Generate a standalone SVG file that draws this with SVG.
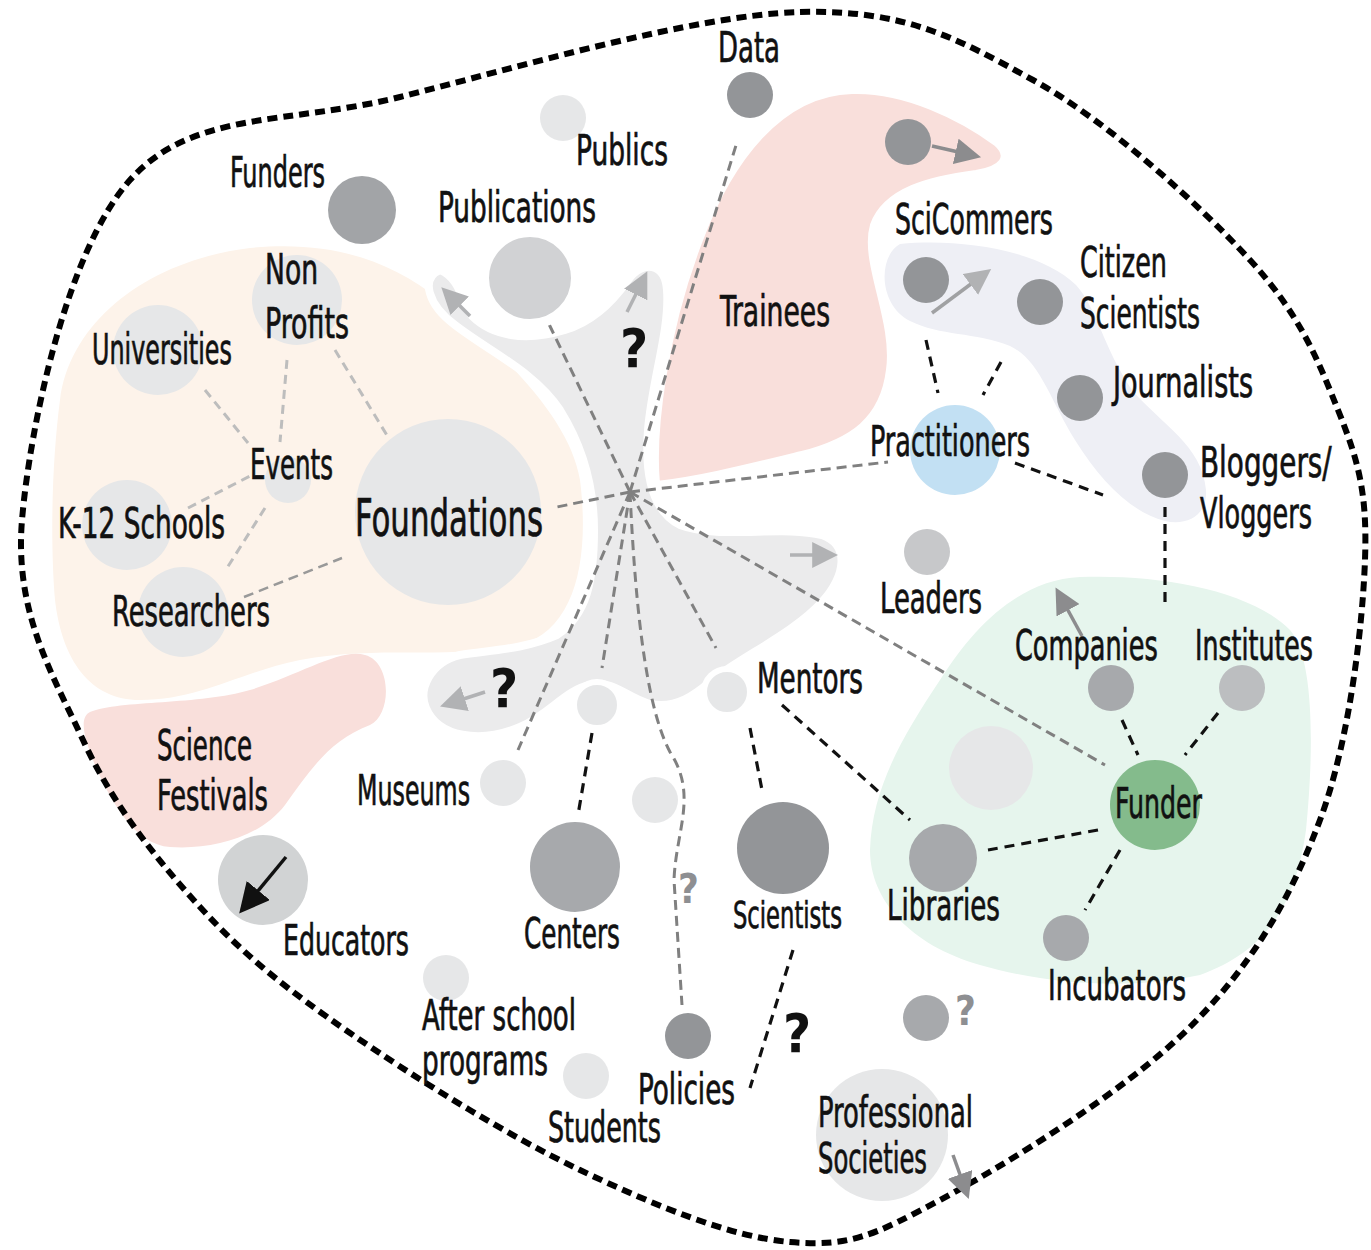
<svg xmlns="http://www.w3.org/2000/svg" width="1371" height="1250" viewBox="0 0 1371 1250">
<defs>
<style>
.lbl{font-family:"Liberation Sans Narrow","DejaVu Sans Condensed","Liberation Sans",sans-serif;font-size:42px;fill:#111;stroke:#111;stroke-width:0.7}
.big{font-size:52px}
.q{font-family:"Liberation Sans Narrow","DejaVu Sans Condensed","Liberation Sans",sans-serif;font-weight:bold;fill:#111;font-size:54px}
.qg{font-family:"Liberation Sans Narrow","DejaVu Sans Condensed","Liberation Sans",sans-serif;font-weight:bold;fill:#8e8f92;font-size:40px}
.dk{fill:#939598}
.md{fill:#a7a9ac}
.lt{fill:#e6e7e8}
.gd{fill:none;stroke:#808080;stroke-width:3;stroke-dasharray:10 6}
.gl{fill:none;stroke:#bdbdbd;stroke-width:3;stroke-dasharray:9 6}
.bd{fill:none;stroke:#111;stroke-width:3.2;stroke-dasharray:10 7}
.al{fill:none;stroke:#b1b2b4;stroke-width:3.5}
.ad{fill:none;stroke:#8c8c8e;stroke-width:3.5}
</style>
<marker id="mL" viewBox="0 0 10 10" refX="8" refY="5" markerUnits="userSpaceOnUse" markerWidth="26" markerHeight="26" orient="auto"><path d="M0,0 L10,5 L0,10 Z" fill="#b1b2b4"/></marker>
<marker id="mD" viewBox="0 0 10 10" refX="8" refY="5" markerUnits="userSpaceOnUse" markerWidth="26" markerHeight="26" orient="auto"><path d="M0,0 L10,5 L0,10 Z" fill="#8c8c8e"/></marker>
<marker id="mB" viewBox="0 0 10 10" refX="8" refY="5" markerUnits="userSpaceOnUse" markerWidth="30" markerHeight="30" orient="auto"><path d="M0,0 L10,5 L0,10 Z" fill="#111"/></marker>
</defs>
<rect width="1371" height="1250" fill="#fff"/>

<g id="regions">
<path id="peach" fill="#fdf3ea" d="M 60,400 C 70,320 150,260 250,248 C 330,240 390,260 440,300 C 510,360 570,420 580,480 C 590,560 575,630 520,645 C 440,660 380,645 300,660 C 240,672 200,700 140,700 C 90,700 62,660 55,600 C 50,540 52,460 60,400 Z"/>
<path id="greyblob" fill="#ebebec" stroke="#fff" stroke-width="8" d="M 440,270 C 420,278 428,305 455,325 C 490,352 535,372 560,410 C 585,450 594,490 594,530 C 594,580 587,615 557,635 C 522,650 490,650 460,655 C 430,662 418,690 426,708 C 438,737 480,744 520,727 C 550,714 565,690 590,685 C 615,680 625,697 650,704 C 680,710 700,690 715,678 C 745,655 795,632 822,602 C 846,575 850,545 822,535 C 780,525 720,540 680,525 C 650,510 645,470 648,430 C 652,380 670,330 667,290 C 665,262 642,260 628,280 C 612,303 592,322 565,330 C 525,342 492,336 472,316 C 462,302 460,278 440,270 Z"/>
<path id="trainees" fill="#f9dfdb" stroke="#fff" stroke-width="6" d="M 657,484 C 652,430 665,330 700,240 C 730,160 780,93 852,91 C 905,89 962,118 996,143 C 1012,157 1002,169 976,173 C 930,179 886,190 873,225 C 862,262 896,320 889,370 C 883,420 852,441 802,454 C 752,466 702,479 657,484 Z"/>
<path id="lavender" fill="#eeeff5" d="M 900,244 C 960,238 1040,250 1076,285 C 1098,310 1102,345 1132,390 C 1162,425 1202,445 1206,490 C 1208,516 1186,526 1165,521 C 1130,512 1100,480 1075,440 C 1050,400 1040,360 1010,346 C 975,332 940,336 910,321 C 878,305 878,256 900,244 Z"/>
<path id="green" fill="#e6f5ed" d="M 1080,577 C 1160,574 1250,590 1290,630 C 1316,660 1313,760 1306,830 C 1296,900 1270,950 1200,975 C 1130,990 1050,985 980,965 C 910,945 870,900 870,850 C 872,790 900,740 940,680 C 975,625 1020,580 1080,577 Z"/>
<path id="festivals" fill="#f9dfdb" d="M 90,712 C 120,700 200,705 250,690 C 300,675 340,648 365,655 C 392,662 392,715 370,725 C 330,740 310,770 285,805 C 260,838 210,850 170,847 C 135,845 110,800 95,765 C 85,740 78,718 90,712 Z"/>
</g>

<g id="boundary">
<path fill="none" stroke="#000" stroke-width="6" stroke-dasharray="10 6" d="M 800,12 C 905.5,9.2 958,38.7 1033,80 C 1108,121.3 1199.7,205 1250,260 C 1300.3,315 1318,360 1338,410 C 1358,460 1367.5,491.7 1365,560 C 1362.5,628.3 1349.2,742.2 1320,820 C 1290.8,897.8 1253.3,963.7 1190,1027 C 1126.7,1090.3 1006.7,1164.2 940,1200 C 873.3,1235.8 850,1247 790,1242 C 730,1237 653.3,1204.8 580,1170 C 506.7,1135.2 413.3,1076.8 350,1033 C 286.7,989.2 244.5,955.8 200,907 C 155.5,858.2 112.7,804.5 83,740 C 53.3,675.5 14.2,613.3 22,520 C 29.8,426.7 67,250.5 130,180 C 193,109.5 288.3,125 400,97 C 511.7,69 694.5,14.8 800,12 Z"/>
</g>

<g id="connectors">
<line class="gd" x1="630" y1="492" x2="547" y2="320"/>
<line class="gd" x1="630" y1="492" x2="737" y2="142"/>
<line class="gd" x1="630" y1="492" x2="552" y2="508"/>
<line class="gd" x1="630" y1="492" x2="888" y2="462"/>
<line class="gd" x1="630" y1="492" x2="1105" y2="765"/>
<line class="gd" x1="630" y1="492" x2="716" y2="648"/>
<line class="gd" x1="630" y1="492" x2="602" y2="668"/>
<line class="gd" x1="630" y1="492" x2="518" y2="750"/>
<path class="gd" d="M 630,492 C 635,600 645,705 670,752 C 698,795 676,830 674,880 L 682,1005"/>
<line class="gl" x1="205" y1="390" x2="248" y2="443"/>
<line class="gl" x1="287" y1="360" x2="280" y2="442"/>
<line class="gl" x1="335" y1="350" x2="388" y2="437"/>
<line class="gl" x1="188" y1="508" x2="250" y2="476"/>
<line class="gl" x1="265" y1="508" x2="227" y2="568"/>
<line class="gd" x1="244" y1="597" x2="342" y2="558" style="stroke:#999;stroke-width:2.5"/>
<line class="bd" x1="926" y1="340" x2="938" y2="393"/>
<line class="bd" x1="1001" y1="362" x2="983" y2="395"/>
<line class="bd" x1="1015" y1="463" x2="1103" y2="495"/>
<line class="bd" x1="1165" y1="507" x2="1165" y2="607"/>
<line class="bd" x1="1122" y1="720" x2="1138" y2="755"/>
<line class="bd" x1="1218" y1="713" x2="1185" y2="755"/>
<line class="bd" x1="1098" y1="830" x2="988" y2="850"/>
<line class="bd" x1="1120" y1="850" x2="1085" y2="910"/>
<line class="bd" x1="782" y1="705" x2="910" y2="820"/>
<line class="bd" x1="750" y1="728" x2="762" y2="790"/>
<line class="bd" x1="592" y1="733" x2="578" y2="815"/>
<line class="bd" x1="793" y1="950" x2="750" y2="1088"/>
<line class="al" x1="470" y1="316" x2="445" y2="291" marker-end="url(#mL)"/>
<line class="al" x1="627" y1="312" x2="645" y2="276" marker-end="url(#mL)"/>
<line class="al" x1="790" y1="555" x2="833" y2="555" marker-end="url(#mL)"/>
<line class="al" x1="485" y1="692" x2="445" y2="705" marker-end="url(#mL)"/>
<line class="ad" x1="932" y1="146" x2="976" y2="156" marker-end="url(#mD)"/>
<line class="al" x1="932" y1="313" x2="987" y2="272" marker-end="url(#mL)" style="stroke:#a0a1a3"/>
<line class="ad" x1="1082" y1="636" x2="1058" y2="592" marker-end="url(#mD)"/>
<line class="ad" x1="953" y1="1155" x2="967" y2="1194" marker-end="url(#mD)"/>
</g>

<g id="nodes">
<g id="n-data"><circle class="dk" cx="750" cy="95" r="23"/><text class="lbl" x="718" y="62" textLength="62" lengthAdjust="spacingAndGlyphs">Data</text></g>
<g id="n-publics"><circle class="lt" cx="563" cy="118" r="23"/><text class="lbl" x="576" y="165" textLength="92" lengthAdjust="spacingAndGlyphs">Publics</text></g>
<g id="n-funders"><circle cx="362" cy="210" r="34" fill="#a2a4a7"/><text class="lbl" x="230" y="187" textLength="95" lengthAdjust="spacingAndGlyphs">Funders</text></g>
<g id="n-publications"><circle cx="530" cy="278" r="46" fill="#d1d2d4" stroke="#fff" stroke-width="10"/><text class="lbl" x="438" y="222" textLength="158" lengthAdjust="spacingAndGlyphs">Publications</text></g>
<g id="n-nonprofits"><circle class="lt" cx="297" cy="300" r="45"/><text class="lbl" x="265" y="284" textLength="53" lengthAdjust="spacingAndGlyphs">Non</text><text class="lbl" x="265" y="338" textLength="84" lengthAdjust="spacingAndGlyphs">Profits</text></g>
<g id="n-universities"><circle class="lt" cx="158" cy="350" r="45"/><text class="lbl" transform="translate(92,364) scale(0.63,1)" x="0" y="0" textLength="222" lengthAdjust="spacingAndGlyphs">Universities</text></g>
<g id="n-events"><circle class="lt" cx="288" cy="480" r="23"/><text class="lbl" x="250" y="479" textLength="83" lengthAdjust="spacingAndGlyphs">Events</text></g>
<g id="n-k12"><circle class="lt" cx="127" cy="525" r="45"/><text class="lbl" x="58" y="538" textLength="167" lengthAdjust="spacingAndGlyphs">K-12 Schools</text></g>
<g id="n-researchers"><circle class="lt" cx="183" cy="612" r="45"/><text class="lbl" x="112" y="626" textLength="158" lengthAdjust="spacingAndGlyphs">Researchers</text></g>
<g id="n-foundations"><circle class="lt" cx="448" cy="512" r="93"/><text class="lbl big" x="355" y="536" textLength="188" lengthAdjust="spacingAndGlyphs">Foundations</text></g>
<g id="n-trainees"><circle class="dk" cx="908" cy="142" r="23"/><text class="lbl" x="720" y="326" textLength="110" lengthAdjust="spacingAndGlyphs">Trainees</text></g>
<g id="n-scicommers"><circle class="dk" cx="926" cy="280" r="23"/><text class="lbl" x="895" y="234" textLength="158" lengthAdjust="spacingAndGlyphs">SciCommers</text></g>
<g id="n-citizen"><circle class="dk" cx="1040" cy="302" r="23"/><text class="lbl" x="1080" y="277" textLength="87" lengthAdjust="spacingAndGlyphs">Citizen</text><text class="lbl" x="1080" y="328" textLength="120" lengthAdjust="spacingAndGlyphs">Scientists</text></g>
<g id="n-journalists"><circle class="dk" cx="1080" cy="398" r="23"/><text class="lbl" x="1113" y="397" textLength="140" lengthAdjust="spacingAndGlyphs">Journalists</text></g>
<g id="n-bloggers"><circle class="dk" cx="1165" cy="475" r="23"/><text class="lbl" transform="translate(1200,477) scale(0.74,1)" x="0" y="0" textLength="178" lengthAdjust="spacingAndGlyphs">Bloggers/</text><text class="lbl" x="1200" y="528" textLength="112" lengthAdjust="spacingAndGlyphs">Vloggers</text></g>
<g id="n-practitioners"><circle cx="955" cy="450" r="45" fill="#c2e0f3"/><text class="lbl" x="870" y="456" textLength="160" lengthAdjust="spacingAndGlyphs">Practitioners</text></g>
<g id="n-leaders"><circle cx="927" cy="552" r="23" fill="#c7c8ca"/><text class="lbl" x="880" y="613" textLength="102" lengthAdjust="spacingAndGlyphs">Leaders</text></g>
<g id="n-companies"><circle class="md" cx="1111" cy="688" r="23"/><text class="lbl" transform="translate(1015,660) scale(0.68,1)" x="0" y="0" textLength="210" lengthAdjust="spacingAndGlyphs">Companies</text></g>
<g id="n-institutes"><circle cx="1242" cy="688" r="23" fill="#bcbec0"/><text class="lbl" x="1195" y="660" textLength="118" lengthAdjust="spacingAndGlyphs">Institutes</text></g>
<g id="n-blank"><circle class="lt" cx="991" cy="768" r="42"/></g>
<g id="n-funder"><circle cx="1155" cy="805" r="45" fill="#84bb8c"/><text class="lbl" x="1115" y="818" textLength="87" lengthAdjust="spacingAndGlyphs">Funder</text></g>
<g id="n-libraries"><circle class="md" cx="943" cy="858" r="34"/><text class="lbl" x="887" y="920" textLength="113" lengthAdjust="spacingAndGlyphs">Libraries</text></g>
<g id="n-incubators"><circle class="md" cx="1066" cy="938" r="23"/><text class="lbl" x="1048" y="1000" textLength="138" lengthAdjust="spacingAndGlyphs">Incubators</text></g>
<g id="n-mentors"><circle class="lt" cx="727" cy="692" r="23" stroke="#fff" stroke-width="6"/><text class="lbl" x="757" y="693" textLength="106" lengthAdjust="spacingAndGlyphs">Mentors</text></g>
<g id="n-small1"><circle class="lt" cx="597" cy="705" r="23" stroke="#fff" stroke-width="6"/></g>
<g id="n-festivals"><text class="lbl" x="157" y="760" textLength="95" lengthAdjust="spacingAndGlyphs">Science</text><text class="lbl" x="157" y="810" textLength="111" lengthAdjust="spacingAndGlyphs">Festivals</text></g>
<g id="n-museums"><circle class="lt" cx="503" cy="783" r="23"/><text class="lbl" x="357" y="805" textLength="113" lengthAdjust="spacingAndGlyphs">Museums</text></g>
<g id="n-small2"><circle class="lt" cx="655" cy="800" r="23"/></g>
<g id="n-centers"><circle class="md" cx="575" cy="867" r="45"/><text class="lbl" x="524" y="948" textLength="96" lengthAdjust="spacingAndGlyphs">Centers</text></g>
<g id="n-scientists"><circle class="dk" cx="783" cy="848" r="46"/><text class="lbl" x="733" y="928" textLength="109" lengthAdjust="spacingAndGlyphs" style="font-size:38px">Scientists</text></g>
<g id="n-educators"><circle cx="263" cy="880" r="45" fill="#d1d3d4"/><line x1="286" y1="857" x2="243" y2="909" stroke="#111" stroke-width="3.5" marker-end="url(#mB)"/><text class="lbl" x="283" y="955" textLength="126" lengthAdjust="spacingAndGlyphs">Educators</text></g>
<g id="n-afterschool"><circle class="lt" cx="446" cy="978" r="23"/><text class="lbl" x="422" y="1030" textLength="154" lengthAdjust="spacingAndGlyphs">After school</text><text class="lbl" x="422" y="1075" textLength="126" lengthAdjust="spacingAndGlyphs">programs</text></g>
<g id="n-students"><circle class="lt" cx="586" cy="1076" r="23"/><text class="lbl" transform="translate(548,1142) scale(0.68,1)" x="0" y="0" textLength="166" lengthAdjust="spacingAndGlyphs">Students</text></g>
<g id="n-policies"><circle class="dk" cx="688" cy="1036" r="23"/><text class="lbl" x="638" y="1104" textLength="97" lengthAdjust="spacingAndGlyphs">Policies</text></g>
<g id="n-unknown"><circle class="md" cx="926" cy="1018" r="23"/><text class="qg" x="955" y="1025">?</text></g>
<g id="n-professional"><circle class="lt" cx="882" cy="1135" r="66"/><text class="lbl" x="818" y="1127" textLength="155" lengthAdjust="spacingAndGlyphs">Professional</text><text class="lbl" x="818" y="1173" textLength="109" lengthAdjust="spacingAndGlyphs">Societies</text></g>
</g>

<g id="marks">
<text class="q" x="620" y="367">?</text>
<text class="q" x="490" y="707">?</text>
<text class="q" x="783" y="1052">?</text>
<text class="qg" x="678" y="903">?</text>
</g>
</svg>
